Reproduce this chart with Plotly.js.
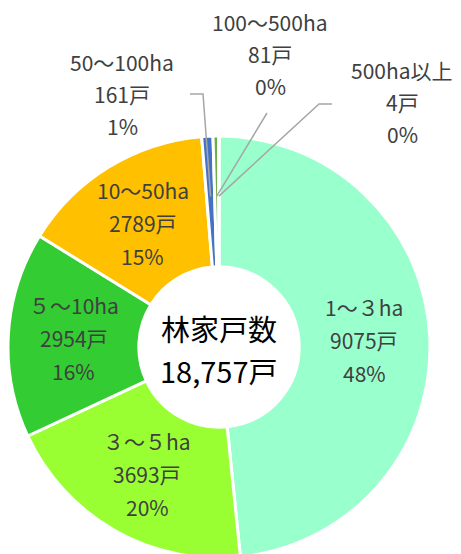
<!DOCTYPE html>
<html><head><meta charset="utf-8">
<script src="https://cdn.plot.ly/plotly-3.0.1.min.js"></script>
<style>html,body{margin:0;padding:0;overflow:hidden;width:461px;height:554px;background:#fff}#chart{width:461px;height:560px}</style>
</head><body><div id="chart"></div>
<script>
// ---- data ----
const categories = ['1～３ha','３～５ha','５～10ha','10～50ha','50～100ha','100～500ha','500ha以上'];
const households = [9075, 3693, 2954, 2789, 161, 81, 4];
const unit = '戸';
const centerTitle = '林家戸数';
const sliceColors = ['#99FFCC','#99FF33','#33CC33','#FFC000','#4472C4','#70AD47','#A5A5A5'];

// ---- layout constants ----
const W = 461, H = 560;
const cxPx = 219, cyPx = 347, R = 211, holeFrac = 0.38;
const FONT = '"Noto Sans CJK JP", "Noto Sans", sans-serif';
const labelColor = '#404040';
const lineGap = 33;
// outside label placement for the thin slices (index -> label centre x, first line y, leader elbow points)
const outsidePlacement = {
  4: {x: 122, y: 62, elbow: [[190, 94], [203, 94]]},
  5: {x: 270, y: 22, elbow: [[267, 113]]},
  6: {x: 402, y: 70, elbow: [[332, 104], [319, 104]]}
};

const total = households.reduce((a, b) => a + b, 0);
const px = x => x / W;
const py = y => 1 - y / H;
function polar(frac, r) {
  const a = frac * 2 * Math.PI;
  return [cxPx + r * Math.sin(a), cyPx - r * Math.cos(a)];
}

const domain = {x: [(cxPx - R) / W, (cxPx + R) / W], y: [(H - cyPx - R) / H, (H - cyPx + R) / H]};

const annotations = [];
const shapes = [];
let cum = 0;
households.forEach((v, i) => {
  const frac = v / total;
  const mid = cum + frac / 2;
  cum += frac;
  const lines = [categories[i], v + unit, Math.round(frac * 100) + '%'];
  if (outsidePlacement[i]) {
    const p = outsidePlacement[i];
    lines.forEach((t, k) => annotations.push({
      x: px(p.x), y: py(p.y + k * (lineGap - 1)), xref: 'paper', yref: 'paper',
      text: t, showarrow: false, xanchor: 'center', yanchor: 'middle',
      font: {family: FONT, size: 21, color: labelColor}
    }));
    const tip = polar(mid, R * 0.715);
    const pts = p.elbow.concat([tip]);
    const path = pts.map((q, k) => (k ? 'L' : 'M') + px(q[0]).toFixed(5) + ',' + py(q[1]).toFixed(5)).join(' ');
    shapes.push({type: 'path', xref: 'paper', yref: 'paper', path: path,
      line: {color: '#A6A6A6', width: 1.5}});
  } else {
    const c = polar(mid, R * (1 + holeFrac) / 2);
    lines.forEach((t, k) => annotations.push({
      x: px(c[0]), y: py(c[1] + (k - 1) * lineGap), xref: 'paper', yref: 'paper',
      text: t, showarrow: false, xanchor: 'center', yanchor: 'middle',
      font: {family: FONT, size: 21, color: labelColor}
    }));
  }
});

// centre text
annotations.push({x: px(cxPx), y: py(cyPx - 19), xref: 'paper', yref: 'paper', text: centerTitle,
  showarrow: false, xanchor: 'center', yanchor: 'middle', font: {family: FONT, size: 29, color: '#000'}});
annotations.push({x: px(cxPx), y: py(cyPx + 23), xref: 'paper', yref: 'paper',
  text: total.toLocaleString('en-US') + unit,
  showarrow: false, xanchor: 'center', yanchor: 'middle', font: {family: FONT, size: 29, color: '#000'}});

const trace = {
  type: 'pie', labels: categories, values: households,
  sort: false, direction: 'clockwise', rotation: 0, hole: holeFrac,
  textinfo: 'none', hoverinfo: 'skip', showlegend: false,
  marker: {colors: sliceColors, line: {color: '#ffffff', width: 3}},
  domain: domain
};

Plotly.newPlot('chart', [trace], {
  width: W, height: H, margin: {l: 0, r: 0, t: 0, b: 0},
  paper_bgcolor: '#fff', plot_bgcolor: '#fff', showlegend: false,
  annotations: annotations, shapes: shapes
}, {staticPlot: true});
</script></body></html>
